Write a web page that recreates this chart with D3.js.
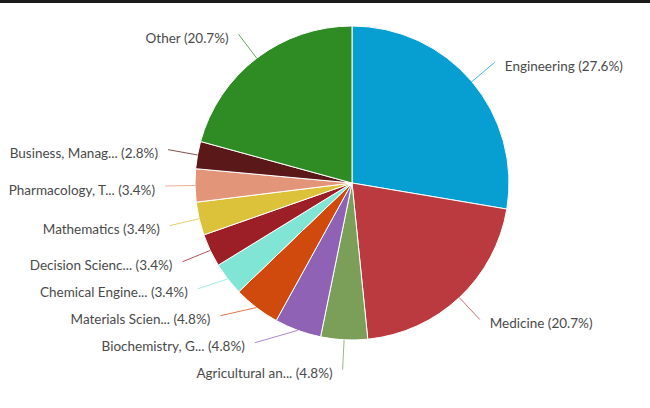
<!DOCTYPE html>
<html>
<head>
<meta charset="utf-8">
<script src="https://cdn.jsdelivr.net/npm/d3@7"></script>
<style>
    body { margin: 0; background: #fff; }
    .label { font-family: Lato, "Open Sans", sans-serif; font-size: 13.5px; fill: #4a4a4a; }
</style>
</head>
<body>
<div id="pie-chart"></div>
<script>
// subject areas, clockwise from 12 o'clock
var categories = ['Engineering', 'Medicine', 'Agricultural an...', 'Biochemistry, G...', 'Materials Scien...',
    'Chemical Engine...', 'Decision Scienc...', 'Mathematics', 'Pharmacology, T...', 'Business, Manag...', 'Other'];
var shares = [27.6, 20.7, 4.8, 4.8, 4.8, 3.4, 3.4, 3.4, 3.4, 2.8, 20.7];
var colors = ['#079fd1', '#bb3a3f', '#7b9f59', '#9062b6', '#d14a0d', '#80e5d5',
    '#9c1e26', '#dcc23b', '#e3957a', '#5b1818', '#2f8b24'];

var width = 650, height = 408,
    cx = 352, cy = 183,
    radius = 157,
    labelRadius = radius + 30,
    gap = 27;

var svg = d3.select('#pie-chart').append('svg')
    .attr('width', width)
    .attr('height', height);

// dark strip along the top edge of the screenshot
svg.append('rect')
    .attr('width', width)
    .attr('height', 3)
    .style('fill', '#1a1a1a');

var data = categories.map(function (c, i) {
    return {name: c, value: shares[i], color: colors[i]};
});

var pie = d3.pie()
    .sort(null)
    .value(function (d) { return d.value; });
var arc = d3.arc().innerRadius(0).outerRadius(radius);
var arcs = pie(data);

var g = svg.append('g')
    .attr('transform', 'translate(' + cx + ',' + cy + ')');

g.selectAll('path')
    .data(arcs)
    .enter().append('path')
    .attr('d', arc)
    .style('fill', function (d) { return d.data.color; })
    .style('stroke', '#fff')
    .style('stroke-width', 1);

// label positions: start on the label circle, then push apart per side
var labels = arcs.map(function (d) {
    var a = (d.startAngle + d.endAngle) / 2;
    return {
        d: d,
        a: a,
        side: Math.sin(a) >= 0 ? 1 : -1,
        y: -labelRadius * Math.cos(a)
    };
});
[1, -1].forEach(function (side) {
    var list = labels.filter(function (l) { return l.side === side; })
        .sort(function (a, b) { return a.y - b.y; });
    var i;
    for (i = list.length - 2; i >= 0; i--) {
        list[i].y = Math.min(list[i].y, list[i + 1].y - gap);
    }
    for (i = 1; i < list.length; i++) {
        list[i].y = Math.max(list[i].y, list[i - 1].y + gap);
    }
});
labels.forEach(function (l) {
    var dy = Math.max(-labelRadius, Math.min(labelRadius, l.y));
    l.x = l.side * Math.sqrt(labelRadius * labelRadius - dy * dy);
    l.x0 = radius * Math.sin(l.a);
    l.y0 = -radius * Math.cos(l.a);
});

g.selectAll('.connector')
    .data(labels)
    .enter().append('line')
    .attr('class', 'connector')
    .attr('x1', function (l) { return l.x0; })
    .attr('y1', function (l) { return l.y0; })
    .attr('x2', function (l) { return l.x; })
    .attr('y2', function (l) { return l.y; })
    .style('stroke', function (l) { return l.d.data.color; })
    .style('stroke-opacity', 0.75)
    .style('stroke-width', 1);

g.selectAll('.label')
    .data(labels)
    .enter().append('text')
    .attr('class', 'label')
    .attr('x', function (l) { return l.x + l.side * 10; })
    .attr('y', function (l) { return l.y + 4; })
    .attr('dy', '0.35em')
    .style('text-anchor', function (l) { return l.side > 0 ? 'start' : 'end'; })
    .text(function (l) { return l.d.data.name + ' (' + l.d.data.value.toFixed(1) + '%)'; });
</script>
</body>
</html>
